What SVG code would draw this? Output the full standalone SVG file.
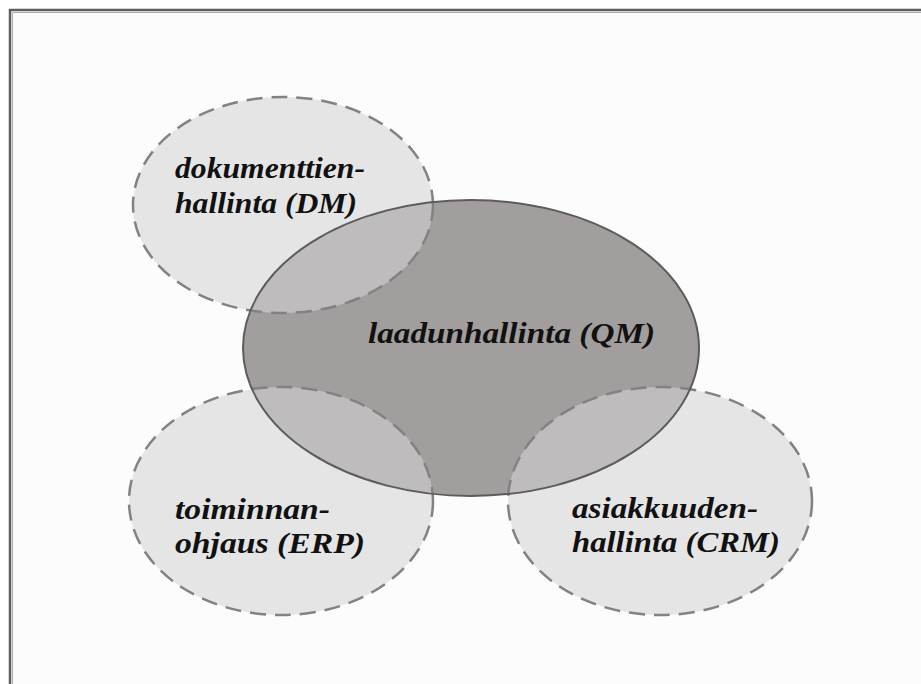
<svg xmlns="http://www.w3.org/2000/svg" xmlns:xlink="http://www.w3.org/1999/xlink" width="921" height="684" viewBox="0 0 921 684">
  <style>
    .sat { fill: #d3d3d3; fill-opacity: 0.57; stroke: #828282; stroke-width: 2.5; stroke-dasharray: 16 9; }
    .core { fill: #a29e9e; stroke: none; }
    .core-line { fill: none; stroke: #5c5c5c; stroke-width: 2; }
    .lbl { font-family: "Liberation Serif", "Times New Roman", serif; font-weight: bold; font-style: italic; font-size: 30px; fill: #111; }
  </style>
  <defs>
    <ellipse id="qm-shape" cx="471" cy="348" rx="228" ry="148"/>
  </defs>

  <!-- page background and frame (only top and left edges fall inside the view) -->
  <rect x="0" y="0" width="921" height="684" fill="#ffffff"/>
  <rect x="10" y="10" width="1000" height="1000" fill="#fcfcfc" stroke="#5e5e5e" stroke-width="2.5"/>
  <path d="M12 12.5 H921 M12.5 12 V684" stroke="#b0b0b0" stroke-width="1" fill="none"/>

  <!-- quality management: the central area -->
  <g id="qm">
    <use xlink:href="#qm-shape" class="core"/>
    <text class="lbl" x="368" y="343" textLength="287" lengthAdjust="spacingAndGlyphs">laadunhallinta (QM)</text>
  </g>

  <!-- document management -->
  <g id="dm">
    <ellipse class="sat" cx="283" cy="205" rx="150" ry="108"/>
    <text class="lbl" x="175" y="178" textLength="190" lengthAdjust="spacingAndGlyphs">dokumenttien-</text>
    <text class="lbl" x="175" y="213" textLength="182" lengthAdjust="spacingAndGlyphs">hallinta (DM)</text>
  </g>

  <!-- enterprise resource planning -->
  <g id="erp">
    <ellipse class="sat" cx="281" cy="501" rx="152" ry="114"/>
    <text class="lbl" x="175" y="519" textLength="155" lengthAdjust="spacingAndGlyphs">toiminnan-</text>
    <text class="lbl" x="175" y="553" textLength="190" lengthAdjust="spacingAndGlyphs">ohjaus (ERP)</text>
  </g>

  <!-- customer relationship management -->
  <g id="crm">
    <ellipse class="sat" cx="660" cy="501" rx="152" ry="114"/>
    <text class="lbl" x="572" y="518" textLength="186" lengthAdjust="spacingAndGlyphs">asiakkuuden-</text>
    <text class="lbl" x="572" y="552" textLength="208" lengthAdjust="spacingAndGlyphs">hallinta (CRM)</text>
  </g>

  <!-- outline of the central area, kept visible across the overlaps -->
  <g id="connectors">
    <use xlink:href="#qm-shape" class="core-line"/>
  </g>
</svg>
